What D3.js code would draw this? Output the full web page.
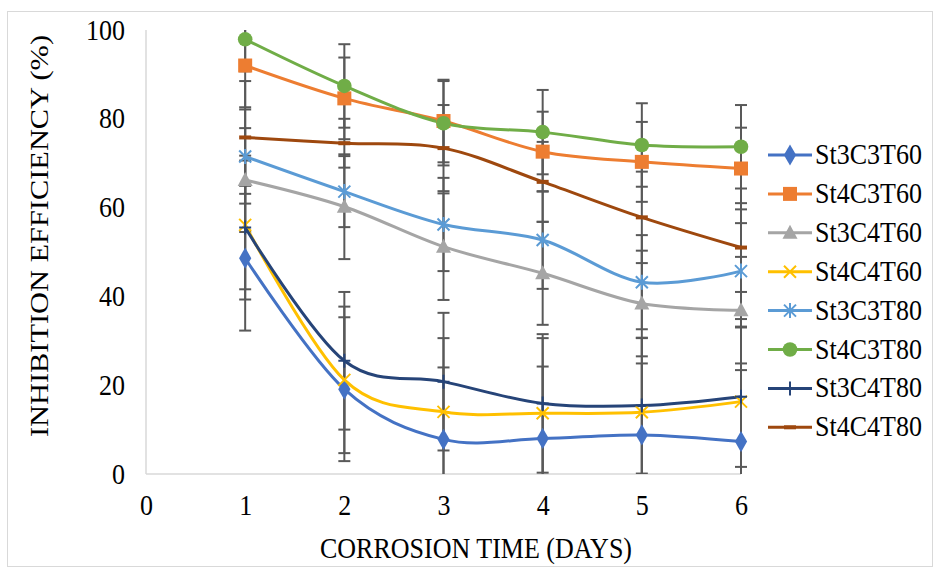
<!DOCTYPE html>
<html>
<head>
<meta charset="utf-8">
<script src="https://cdn.jsdelivr.net/npm/d3@7"></script>
<style>
  body { margin: 0; background: #fff; }
</style>
</head>
<body>
<svg id="chart" width="934" height="568"></svg>
<script>
var days = [1, 2, 3, 4, 5, 6];
var xTicks = [0, 1, 2, 3, 4, 5, 6];
var yTicks = [0, 20, 40, 60, 80, 100];

var seriesNames = ['St3C3T60', 'St4C3T60', 'St3C4T60', 'St4C4T60', 'St3C3T80', 'St4C3T80', 'St3C4T80', 'St4C4T80'];

// inhibition efficiency (%) per day
var st3c3t60 = [48.6, 19.1, 7.8, 8.0, 8.8, 7.3];
var st4c3t60 = [92.0, 84.6, 79.5, 72.6, 70.3, 68.8];
var st3c4t60 = [66.2, 60.2, 51.2, 45.2, 38.4, 36.9];
var st4c4t60 = [56.1, 21.2, 14.0, 13.7, 13.9, 16.3];
var st3c3t80 = [71.5, 63.6, 56.2, 52.7, 43.2, 45.7];
var st4c3t80 = [97.9, 87.4, 79.0, 77.0, 74.1, 73.7];
var st3c4t80 = [55.5, 25.5, 20.8, 15.9, 15.4, 17.4];
var st4c4t80 = [75.8, 74.5, 73.4, 65.8, 57.8, 51.0];

// error bar half widths
var errSt3c3t60 = [16.3, 16.2, 16.2, 16.2, 16.1, 16.1];
var errSt4c3t60 = [9.4, 9.2, 9.3, 9.0, 9.0, 9.2];
var errSt3c4t60 = [11.7, 11.8, 12.0, 11.6, 11.9, 12.0];
var errSt4c4t60 = [14.5, 16.5, 16.6, 16.9, 16.7, 16.7];
var errSt3c3t80 = [10.6, 8.0, 10.5, 11.0, 10.6, 10.8];
var errSt4c3t80 = [7.2, 9.4, 9.5, 9.5, 9.4, 9.4];
var errSt3c4t80 = [16.2, 15.5, 15.5, 15.6, 15.3, 15.8];
var errSt4c4t80 = [12.7, 5.5, 9.7, 9.0, 10.3, 10.0];

var colors = ['#4472C4', '#ED7D31', '#A5A5A5', '#FFC000', '#5B9BD5', '#70AD47', '#264478', '#9E480E'];
var markers = ['diamond', 'square', 'triangle', 'x', 'asterisk', 'circle', 'plus', 'dash'];

(function() {
  var values = [st3c3t60, st4c3t60, st3c4t60, st4c4t60, st3c3t80, st4c3t80, st3c4t80, st4c4t80];
  var errors = [errSt3c3t60, errSt4c3t60, errSt3c4t60, errSt4c4t60, errSt3c3t80, errSt4c3t80, errSt3c4t80, errSt4c4t80];
  var serif = '"Liberation Serif", "Times New Roman", Tinos, "DejaVu Serif", serif';

  var series = seriesNames.map(function(name, i) {
    return {
      name: name, color: colors[i], marker: markers[i],
      points: days.map(function(d, j) { return {day: d, value: values[i][j], err: errors[i][j]}; })
    };
  });

  var svg = d3.select('#chart').style('font-family', serif);
  var x = d3.scaleLinear().domain([0, 6]).range([146, 741]);
  var y = d3.scaleLinear().domain([0, 100]).range([474, 30]);
  var stretch = 1.1;

  svg.append('rect')
    .attr('x', 7.5).attr('y', 11.5).attr('width', 925).attr('height', 555)
    .attr('fill', 'none').attr('stroke', '#d9d9d9');

  svg.append('defs').append('clipPath').attr('id', 'plot-clip')
    .append('rect').attr('x', 130).attr('y', y(100)).attr('width', 640).attr('height', y(0) - y(100));

  // axes
  var yAxis = svg.append('g').attr('transform', 'translate(146,0)')
    .call(d3.axisLeft(y).tickValues(yTicks).tickSize(0).tickPadding(21));
  var xAxis = svg.append('g').attr('transform', 'translate(0,474)')
    .call(d3.axisBottom(x).tickValues(xTicks).tickFormat(d3.format('d')).tickSize(0).tickPadding(19));
  [yAxis, xAxis].forEach(function(g) {
    g.attr('font-family', null).attr('font-size', null);
    g.select('.domain').remove();
    g.selectAll('text').style('font-family', serif).attr('font-size', 26).attr('fill', '#000')
      .attr('transform', 'scale(1,' + stretch + ')');
  });

  svg.append('line')
    .attr('x1', x(0)).attr('x2', x(0)).attr('y1', y(100)).attr('y2', y(0))
    .attr('stroke', '#d9d9d9').attr('stroke-width', 1.5);
  svg.append('line')
    .attr('x1', x(0)).attr('x2', x(6)).attr('y1', y(0)).attr('y2', y(0))
    .attr('stroke', '#d9d9d9').attr('stroke-width', 1.5);

  // titles
  svg.append('text')
    .attr('transform', 'translate(476,558) scale(1,' + stretch + ')')
    .attr('text-anchor', 'middle').attr('font-size', 26)
    .style('font-family', serif)
    .text('CORROSION TIME (DAYS)');
  svg.append('text')
    .attr('transform', 'translate(48,236) rotate(-90)')
    .attr('text-anchor', 'middle').attr('font-size', 26)
    .style('font-family', serif)
    .attr('textLength', 402).attr('lengthAdjust', 'spacingAndGlyphs')
    .text('INHIBITION EFFICIENCY (%)');

  // error bars
  var errLayer = svg.append('g').attr('clip-path', 'url(#plot-clip)')
    .attr('stroke', '#595959').attr('stroke-width', 2).attr('fill', 'none');
  series.forEach(function(s) {
    var bars = errLayer.selectAll(null).data(s.points).enter().append('g');
    bars.append('line')
      .attr('x1', function(d) { return x(d.day); }).attr('x2', function(d) { return x(d.day); })
      .attr('y1', function(d) { return y(d.value + d.err); })
      .attr('y2', function(d) { return y(d.value - d.err); });
    [1, -1].forEach(function(sign) {
      bars.append('line')
        .attr('x1', function(d) { return x(d.day) - 6; }).attr('x2', function(d) { return x(d.day) + 6; })
        .attr('y1', function(d) { return y(d.value + sign * d.err); })
        .attr('y2', function(d) { return y(d.value + sign * d.err); });
    });
  });

  var line = d3.line()
    .x(function(d) { return x(d.day); })
    .y(function(d) { return y(d.value); })
    .curve(d3.curveCardinal.tension(0));

  function drawMarker(g, type, color) {
    if(type === 'diamond') {
      g.append('path').attr('d', d3.symbol(d3.symbolDiamond, 130)()).attr('fill', color);
    } else if(type === 'square') {
      g.append('rect').attr('x', -7).attr('y', -7).attr('width', 14).attr('height', 14).attr('fill', color);
    } else if(type === 'triangle') {
      g.append('path').attr('d', 'M0,-8L7.5,6L-7.5,6Z').attr('fill', color);
    } else if(type === 'circle') {
      g.append('circle').attr('r', 7.3).attr('fill', color);
    } else if(type === 'x') {
      g.append('path').attr('d', 'M-6,-6L6,6M-6,6L6,-6').attr('stroke', color).attr('stroke-width', 2);
    } else if(type === 'asterisk') {
      g.append('path').attr('d', 'M-6,-6L6,6M-6,6L6,-6M0,-7.5L0,7.5').attr('stroke', color).attr('stroke-width', 2);
    } else if(type === 'plus') {
      g.append('path').attr('d', 'M0,-7L0,7M-6,0L6,0').attr('stroke', color).attr('stroke-width', 2);
    } else if(type === 'dash') {
      g.append('path').attr('d', 'M-6,0L6,0').attr('stroke', color).attr('stroke-width', 4);
    }
  }

  series.forEach(function(s) {
    svg.append('path')
      .attr('d', line(s.points))
      .attr('fill', 'none').attr('stroke', s.color).attr('stroke-width', 3)
      .attr('stroke-linecap', 'round');
  });
  series.forEach(function(s) {
    s.points.forEach(function(p) {
      var g = svg.append('g').attr('transform', 'translate(' + x(p.day) + ',' + y(p.value) + ')');
      drawMarker(g, s.marker, s.color);
    });
  });

  // legend
  var legend = svg.append('g');
  series.forEach(function(s, i) {
    var cy = 155 + i * 38.9;
    var row = legend.append('g').attr('transform', 'translate(0,' + cy + ')');
    row.append('line').attr('x1', 768).attr('x2', 812).attr('y1', 0).attr('y2', 0)
      .attr('stroke', s.color).attr('stroke-width', 3);
    drawMarker(row.append('g').attr('transform', 'translate(790,0)'), s.marker, s.color);
    row.append('text')
      .attr('transform', 'translate(815,9) scale(1,' + stretch + ')')
      .attr('font-size', 26)
      .style('font-family', serif)
      .text(s.name);
  });
})();
</script>
</body>
</html>
